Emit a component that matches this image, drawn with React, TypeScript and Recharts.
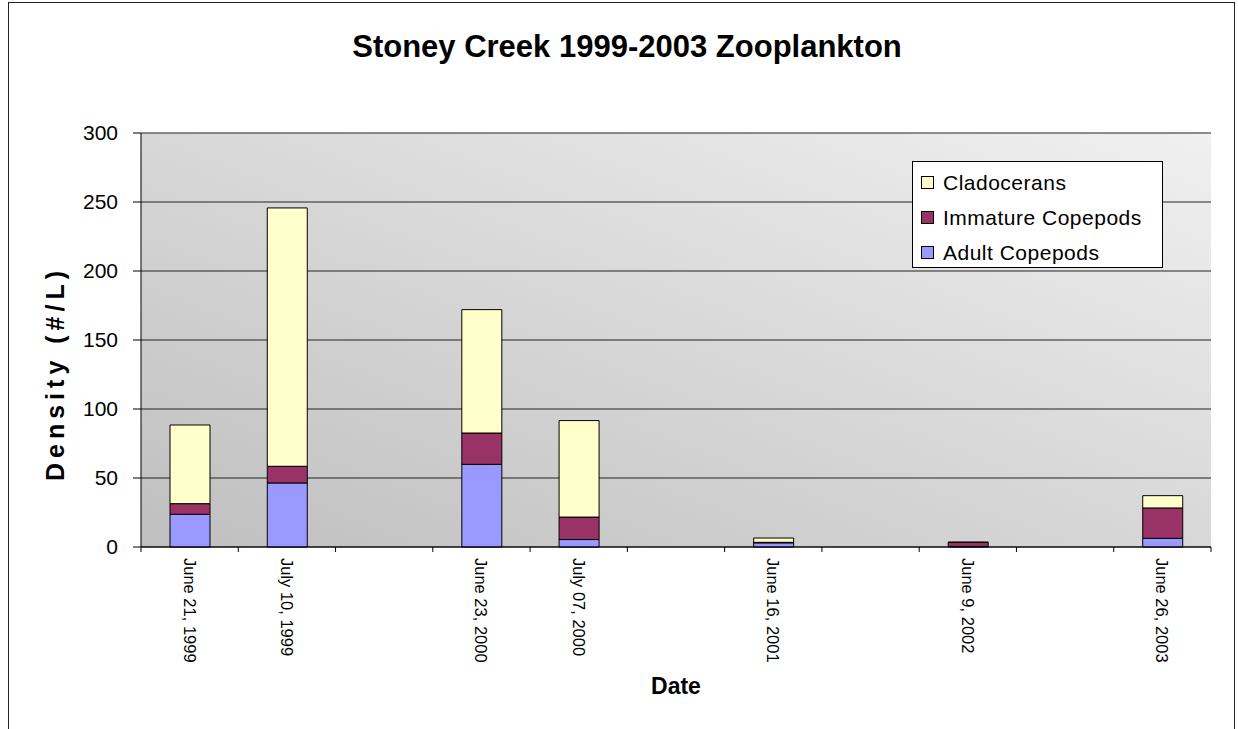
import { BarChart, Bar, XAxis, YAxis, CartesianGrid, Legend } from "recharts";

// categories (blank slots are the empty gaps between sampling dates)
const DATES = [
  "June 21, 1999", "July 10, 1999", "",
  "June 23, 2000", "July 07, 2000", "",
  "June 16, 2001", "",
  "June 9, 2002", "",
  "June 26, 2003",
];
const ADULT       = [23.7, 46.4, null, 59.9,  5.4, null, 3.0, null, 0.4, null,  6.3];
const IMMATURE    = [ 7.7, 12.1, null, 22.7, 16.3, null, 0.4, null, 2.9, null, 22.0];
const CLADOCERANS = [57.0, 187.2, null, 89.4, 69.9, null, 3.1, null, 0.3, null,  8.9];
const Y_TICKS = [0, 50, 100, 150, 200, 250, 300];

const SERIES = [
  { key: "adult",    name: "Adult Copepods",    color: "#9999FF" },
  { key: "immature", name: "Immature Copepods", color: "#993366" },
  { key: "clado",    name: "Cladocerans",       color: "#FFFFCC" },
];

const data = DATES.map((date, i) => ({
  date,
  adult: ADULT[i],
  immature: IMMATURE[i],
  clado: CLADOCERANS[i],
}));

const W = 1238;
const H = 729;
const MARGIN = { top: 133, right: 27, bottom: 52, left: 0 };
const Y_AXIS_W = 141;
const X_AXIS_H = 130;
const PLOT_W = W - MARGIN.left - MARGIN.right - Y_AXIS_W;
const X_TICK_SIZE = 5;
const X_TICK_MARGIN = 6;
const FONT = "'Liberation Sans', Arial, sans-serif";

// category labels sit mid-band, tick marks sit on the band edges (Excel style)
function DateTick(props: any) {
  const { x, y, payload, index } = props;
  const bw = PLOT_W / DATES.length;
  const top = y - X_TICK_SIZE - X_TICK_MARGIN;
  return (
    <g>
      <line x1={x - bw / 2} x2={x - bw / 2} y1={top} y2={top + X_TICK_SIZE} stroke="#000" />
      {index === DATES.length - 1 && (
        <line x1={x + bw / 2} x2={x + bw / 2} y1={top} y2={top + X_TICK_SIZE} stroke="#000" />
      )}
      {payload.value && (
        <text
          transform={`translate(${x},${y}) rotate(90)`}
          fontSize={16.5}
          fontFamily={FONT}
          fill="#000"
          dominantBaseline="central"
        >
          {payload.value}
        </text>
      )}
    </g>
  );
}

function YLabel(props: any) {
  const { viewBox } = props;
  const cx = viewBox.x + 55;
  const cy = viewBox.y + viewBox.height / 2 + 36;
  return (
    <text
      x={cx}
      y={cy}
      transform={`rotate(-90, ${cx}, ${cy})`}
      textAnchor="middle"
      dominantBaseline="central"
      fontSize={25}
      fontWeight="bold"
      fontFamily={FONT}
      textLength={210}
      lengthAdjust="spacing"
      fill="#000"
    >
      Density (#/L)
    </text>
  );
}

function XLabel(props: any) {
  const { viewBox } = props;
  return (
    <text
      x={viewBox.x + viewBox.width / 2}
      y={viewBox.y + 147}
      textAnchor="middle"
      fontSize={23}
      fontWeight="bold"
      fontFamily={FONT}
      fill="#000"
    >
      Date
    </text>
  );
}

function LegendBox(props: any) {
  const order = (v: string) => SERIES.findIndex((s) => s.name === v);
  const items = [...(props.payload ?? [])].sort((a: any, b: any) => order(b.value) - order(a.value));
  return (
    <div
      style={{
        border: "1px solid #000",
        background: "#fff",
        width: 251,
        height: 107,
        boxSizing: "border-box",
        padding: "3px 0 0 8px",
        fontFamily: FONT,
        color: "#000",
      }}
    >
      {items.map((it: any) => (
        <div key={it.value} style={{ display: "flex", alignItems: "center", height: 35 }}>
          <span
            style={{
              width: 13,
              height: 13,
              boxSizing: "border-box",
              border: "1px solid #000",
              background: it.color,
              marginRight: 9,
              flex: "none",
            }}
          />
          <span style={{ fontSize: 21, letterSpacing: 0.5, whiteSpace: "nowrap" }}>{it.value}</span>
        </div>
      ))}
    </div>
  );
}

export default function App() {
  return (
    <div style={{ position: "absolute", left: 0, top: 0, width: W, height: H, overflow: "hidden", background: "#fff" }}>
      <BarChart width={W} height={H} data={data} margin={MARGIN} barSize={40}>
        <defs>
          <linearGradient id="plotBg" x1="0" y1="1" x2="1" y2="0">
            <stop offset="0%" stopColor="#BFBFBF" />
            <stop offset="100%" stopColor="#F0F0F0" />
          </linearGradient>
        </defs>
        <rect x={8.5} y={2.5} width={1226} height={800} fill="none" stroke="#222" />
        <text
          x={627}
          y={57}
          textAnchor="middle"
          fontSize={31}
          fontWeight="bold"
          fontFamily={FONT}
          fill="#000"
        >
          Stoney Creek 1999-2003 Zooplankton
        </text>
        <CartesianGrid vertical={false} stroke="#222" fill="url(#plotBg)" fillOpacity={1} />
        <XAxis
          dataKey="date"
          height={X_AXIS_H}
          interval={0}
          tickLine={false}
          tickSize={X_TICK_SIZE}
          tickMargin={X_TICK_MARGIN}
          axisLine={{ stroke: "#000" }}
          tick={<DateTick />}
          label={XLabel}
        />
        <YAxis
          domain={[0, 300]}
          ticks={Y_TICKS}
          interval={0}
          width={Y_AXIS_W}
          tickSize={8}
          tickMargin={15}
          axisLine={{ stroke: "#000" }}
          tickLine={{ stroke: "#000" }}
          tick={{ fontSize: 21, fill: "#000", fontFamily: FONT }}
          label={YLabel}
        />
        <YAxis
          yAxisId="frame"
          orientation="right"
          domain={[0, 300]}
          width={0}
          tick={false}
          tickLine={false}
          axisLine={{ stroke: "#808080" }}
        />
        <Legend
          layout="vertical"
          align="center"
          verticalAlign="middle"
          content={LegendBox}
          wrapperStyle={{ position: "absolute", left: 912, top: 161, width: 251, height: 107 }}
        />
        {SERIES.map((s) => (
          <Bar
            key={s.key}
            dataKey={s.key}
            name={s.name}
            stackId="a"
            fill={s.color}
            stroke="#000"
            strokeWidth={1}
            isAnimationActive={false}
          />
        ))}
      </BarChart>
    </div>
  );
}
